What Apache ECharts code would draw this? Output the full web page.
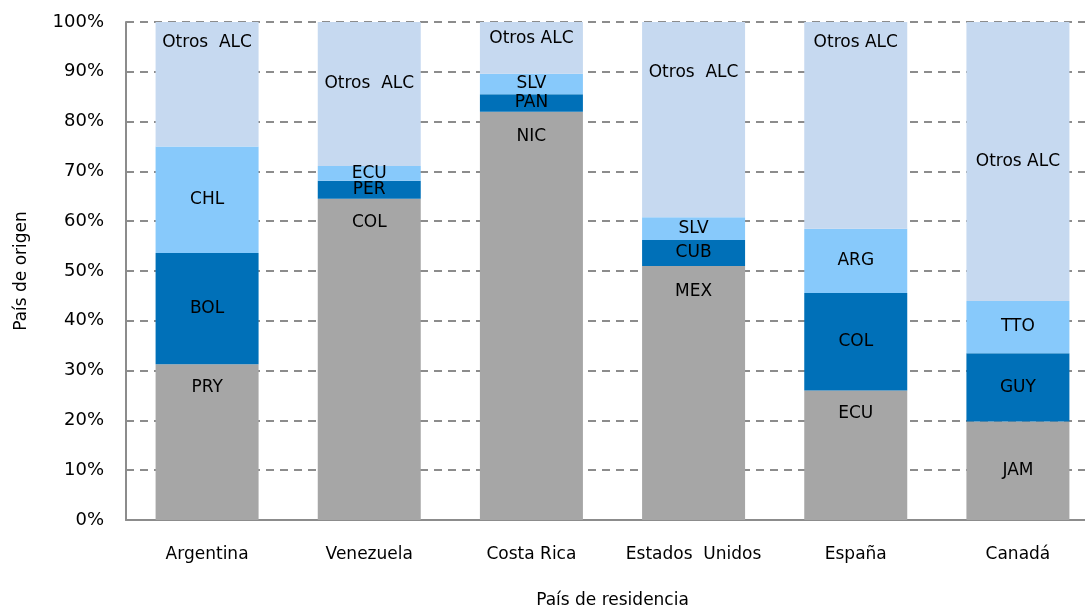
<!DOCTYPE html>
<html>
<head>
<meta charset="utf-8">
<script src="https://cdn.jsdelivr.net/npm/echarts@6/dist/echarts.min.js"></script>
<style>
  html, body { margin: 0; padding: 0; background: #fff; }
  #chart { width: 1085px; height: 608px; }
</style>
</head>
<body>
<div id="chart"></div>
<script>
// países de residencia
const categories = ["Argentina", "Venezuela", "Costa Rica", "Estados  Unidos", "España", "Canadá"];

// primer país de origen (gris)
const firstNames = ["PRY", "COL", "NIC", "MEX", "ECU", "JAM"];
const firstValues = [31.3, 64.5, 82.0, 51.0, 26.0, 19.8];

// segundo país (azul oscuro)
const secondNames = ["BOL", "PER", "PAN", "CUB", "COL", "GUY"];
const secondValues = [22.3, 3.6, 3.5, 5.2, 19.6, 13.7];

// tercer país (celeste)
const thirdNames = ["CHL", "ECU", "SLV", "SLV", "ARG", "TTO"];
const thirdValues = [21.4, 3.0, 4.1, 4.6, 12.9, 10.5];

// resto
const otherNames = ["Otros  ALC", "Otros  ALC", "Otros ALC", "Otros  ALC", "Otros ALC", "Otros ALC"];
const otherValues = [25.0, 28.9, 10.4, 39.2, 41.5, 56.0];

const yTicks = [0, 10, 20, 30, 40, 50, 60, 70, 80, 90, 100];

// gap between segment top and label, null = centred
const firstLabelGap = [15, 15, 16, 17, 15, null];
const otherLabelGap = [12, 53, 8, 42, 12, null];

const font = "'DejaVu Sans', sans-serif";

function buildData(values, names, gaps) {
  return values.map(function (v, i) {
    const item = { value: v, name: names[i], label: { formatter: names[i] } };
    if (gaps) {
      if (gaps[i] === null) {
        item.label.position = "inside";
      } else {
        item.label.position = "insideTop";
        item.label.distance = gaps[i];
      }
    }
    return item;
  });
}

function seriesOf(name, values, names, color, gaps) {
  return {
    name: name,
    type: "bar",
    stack: "total",
    barWidth: 103,
    data: buildData(values, names, gaps),
    itemStyle: { color: color },
    label: {
      show: true,
      position: "inside",
      color: "#000",
      fontFamily: font,
      fontSize: 17
    }
  };
}

const chart = echarts.init(document.getElementById("chart"));

const option = {
  animation: false,
  grid: { left: 126, right: -14, top: 22, bottom: 88, outerBoundsMode: "none", containLabel: false },
  xAxis: {
    type: "category",
    data: categories,
    name: "País de residencia",
    nameLocation: "middle",
    nameGap: 72,
    nameTextStyle: { fontFamily: font, fontSize: 17, color: "#000" },
    axisLine: { lineStyle: { color: "#8c8c8c", width: 2 } },
    axisTick: { show: false },
    axisLabel: { interval: 0, fontFamily: font, fontSize: 17, color: "#000", margin: 26 }
  },
  yAxis: {
    type: "value",
    min: 0,
    max: 100,
    interval: 10,
    name: "País de origen",
    nameLocation: "middle",
    nameGap: 96,
    nameTextStyle: { fontFamily: font, fontSize: 17, color: "#000" },
    axisLine: { show: true, lineStyle: { color: "#8c8c8c", width: 2 } },
    axisTick: { show: false },
    axisLabel: {
      fontFamily: font,
      fontSize: 18,
      color: "#000",
      margin: 22,
      formatter: function (v) { return yTicks.indexOf(v) >= 0 ? v + "%" : ""; }
    },
    splitLine: {
      show: true,
      lineStyle: { color: "#8c8c8c", width: 2, type: [8, 6] }
    }
  },
  series: [
    seriesOf("primero", firstValues, firstNames, "#a6a6a6", firstLabelGap),
    seriesOf("segundo", secondValues, secondNames, "#0070b8", null),
    seriesOf("tercero", thirdValues, thirdNames, "#87c9fb", null),
    seriesOf("otros", otherValues, otherNames, "#c6d9f0", otherLabelGap)
  ]
};

chart.setOption(option);
</script>
</body>
</html>
